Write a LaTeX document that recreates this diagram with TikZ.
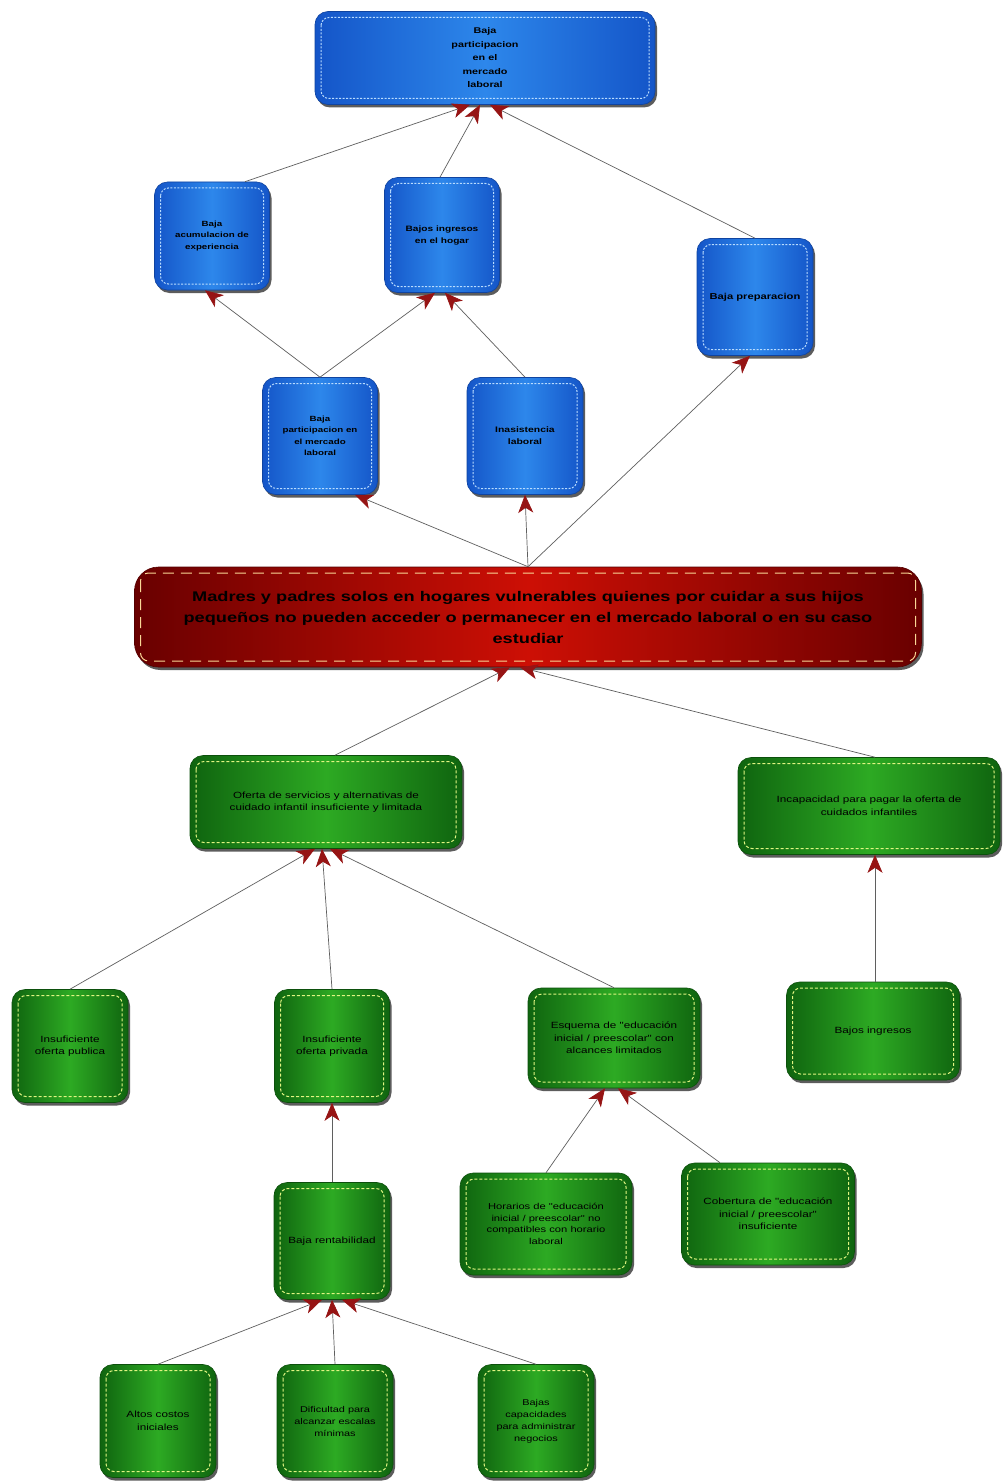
\documentclass[tikz,border=0pt]{standalone}
\usepackage{fontspec}
\setmainfont{Liberation Sans}
\newfontfamily\widesans{Liberation Sans}[FakeStretch=1.3]
\usetikzlibrary{arrows.meta,shadows}
\definecolor{blueM}{RGB}{45,135,235}
\definecolor{blueD}{RGB}{20,85,200}
\definecolor{blueL}{RGB}{185,220,255}
\definecolor{greenM}{RGB}{45,170,35}
\definecolor{greenD}{RGB}{15,100,15}
\definecolor{greenL}{RGB}{225,245,130}
\definecolor{redM}{RGB}{205,15,5}
\definecolor{redD}{RGB}{105,0,0}
\definecolor{redL}{RGB}{250,215,150}
\definecolor{lineG}{RGB}{95,95,95}
\definecolor{tipR}{RGB}{150,20,20}
\tikzset{
  innerline/.style n args={3}{path picture={
      \draw[#1, line width=1pt, dash pattern=on #2 off #3, rounded corners=8pt]
        ([shift={(6pt,-6pt)}]path picture bounding box.north west) rectangle
        ([shift={(-6pt,6pt)}]path picture bounding box.south east);}},
  box/.style={rounded corners=13pt, align=center, inner sep=0pt,
      drop shadow={shadow xshift=2pt, shadow yshift=-3pt, opacity=.75, fill=black!85}},
  bluebox/.style={box, left color=blueD, right color=blueD, middle color=blueM,
      draw=blueD!80!black, line width=.6pt, innerline={blueL}{2pt}{1.5pt},
      font=\widesans\fontsize{7.5}{11}\selectfont\bfseries},
  greenbox/.style={box, left color=greenD, right color=greenD, middle color=greenM,
      draw=greenD!80!black, line width=.6pt, innerline={greenL}{3pt}{2pt},
      font=\widesans\fontsize{9}{12.5}\selectfont},
  redbox/.style={box, rounded corners=24pt, left color=redD, right color=redD, middle color=redM,
      draw=redD!80!black, line width=.6pt, innerline={redL}{11pt}{7pt},
      font=\widesans\fontsize{14}{21}\selectfont\bfseries},
  conn/.style={draw=lineG, line width=.7pt,
      -{Stealth[length=18pt,width=15pt,inset=5pt,color=tipR]}},
}
\begin{document}
\begin{tikzpicture}[x=1pt,y=-1pt]
\useasboundingbox (0,0) rectangle (1005,1482);
\fill[white] (0,0) rectangle (1005,1482);

% blue nodes
\node[bluebox, minimum width=340pt, minimum height=93pt, font=\widesans\fontsize{8.3}{13.5}\selectfont\bfseries] (top) at (485,58) {Baja\\participacion\\en el\\mercado\\laboral};
\node[bluebox, minimum width=115pt, minimum height=108pt, font=\widesans\fontsize{7.5}{11.5}\selectfont\bfseries] (acum) at (212,236) {Baja\\acumulacion de\\experiencia};
\node[bluebox, minimum width=115pt, minimum height=115pt, font=\widesans\fontsize{7.8}{12}\selectfont\bfseries] (ingr) at (442,235) {Bajos ingresos\\en el hogar};
\node[bluebox, minimum width=116pt, minimum height=117pt, font=\widesans\fontsize{8.6}{12}\selectfont\bfseries] (prep) at (755,297) {Baja preparacion};
\node[bluebox, minimum width=115pt, minimum height=117pt, font=\widesans\fontsize{7.5}{11.5}\selectfont\bfseries] (part) at (320,436) {Baja\\participacion en\\el mercado\\laboral};
\node[bluebox, minimum width=116pt, minimum height=117pt, font=\widesans\fontsize{8}{12}\selectfont\bfseries] (inas) at (525,436) {Inasistencia\\laboral};

% red node
\node[redbox, minimum width=787pt, minimum height=100pt] (prob) at (528,617) {Madres y padres solos en hogares vulnerables quienes por cuidar a sus hijos\\pequeños no pueden acceder o permanecer en el mercado laboral o en su caso\\estudiar};

% green nodes
\node[greenbox, minimum width=272pt, minimum height=93pt] (ofer) at (326,802) {Oferta de servicios y alternativas de\\cuidado infantil insuficiente y limitada};
\node[greenbox, minimum width=262pt, minimum height=97pt] (incap) at (869,806) {Incapacidad para pagar la oferta de\\cuidados infantiles};
\node[greenbox, minimum width=116pt, minimum height=113pt] (publ) at (70,1046) {Insuficiente\\oferta publica};
\node[greenbox, minimum width=115pt, minimum height=113pt] (priv) at (332,1046) {Insuficiente\\oferta privada};
\node[greenbox, minimum width=172pt, minimum height=100pt] (esq) at (614,1038) {Esquema de "educación\\inicial / preescolar" con\\alcances limitados};
\node[greenbox, minimum width=173pt, minimum height=98pt] (bing) at (873,1031) {Bajos ingresos};
\node[greenbox, minimum width=116pt, minimum height=117pt] (rent) at (332,1241) {Baja rentabilidad};
\node[greenbox, minimum width=172pt, minimum height=102pt, font=\widesans\fontsize{8.6}{11.5}\selectfont] (hor) at (546,1224) {Horarios de "educación\\inicial / preescolar" no\\compatibles con horario\\laboral};
\node[greenbox, minimum width=173pt, minimum height=102pt] (cob) at (768,1214) {Cobertura de "educación\\inicial / preescolar"\\insuficiente};
\node[greenbox, minimum width=116pt, minimum height=113pt] (alt) at (158,1421) {Altos costos\\iniciales};
\node[greenbox, minimum width=116pt, minimum height=113pt, font=\widesans\fontsize{8.4}{12}\selectfont] (dif) at (335,1421) {Dificultad para\\alcanzar escalas\\mínimas};
\node[greenbox, minimum width=116pt, minimum height=113pt, font=\widesans\fontsize{8.4}{12}\selectfont] (cap) at (536,1421) {Bajas\\capacidades\\para administrar\\negocios};

% connectors
\draw[conn] ([xshift=33pt]acum.north) -- ([xshift=-15pt]top.south);
\draw[conn] ([xshift=-2pt]ingr.north) -- ([xshift=-5pt]top.south);
\draw[conn] (prep.north) -- ([xshift=5pt]top.south);
\draw[conn] (part.north) -- ([xshift=-7pt]acum.south);
\draw[conn] (part.north) -- ([xshift=-7pt]ingr.south);
\draw[conn] (inas.north) -- ([xshift=3pt]ingr.south);
\draw[conn] (prob.north) -- ([xshift=35pt]part.south);
\draw[conn] (prob.north) -- (inas.south);
\draw[conn] (prob.north) -- ([xshift=-5pt]prep.south);
\draw[conn] ([xshift=9pt]ofer.north) -- ([xshift=-18pt]prob.south);
\draw[conn] ([xshift=6pt]incap.north) -- ([xshift=-8pt]prob.south);
\draw[conn] (publ.north) -- ([xshift=-11pt]ofer.south);
\draw[conn] (priv.north) -- ([xshift=-4pt]ofer.south);
\draw[conn] (esq.north) -- ([xshift=4pt]ofer.south);
\draw[conn] ([xshift=2pt]bing.north) -- ([xshift=6pt]incap.south);
\draw[conn] (rent.north) -- (priv.south);
\draw[conn] (hor.north) -- ([xshift=-9pt]esq.south);
\draw[conn] ([xshift=-48pt]cob.north) -- ([xshift=4pt]esq.south);
\draw[conn] (alt.north) -- ([xshift=-10pt]rent.south);
\draw[conn] (dif.north) -- (rent.south);
\draw[conn] (cap.north) -- ([xshift=10pt]rent.south);
\end{tikzpicture}
\end{document}
